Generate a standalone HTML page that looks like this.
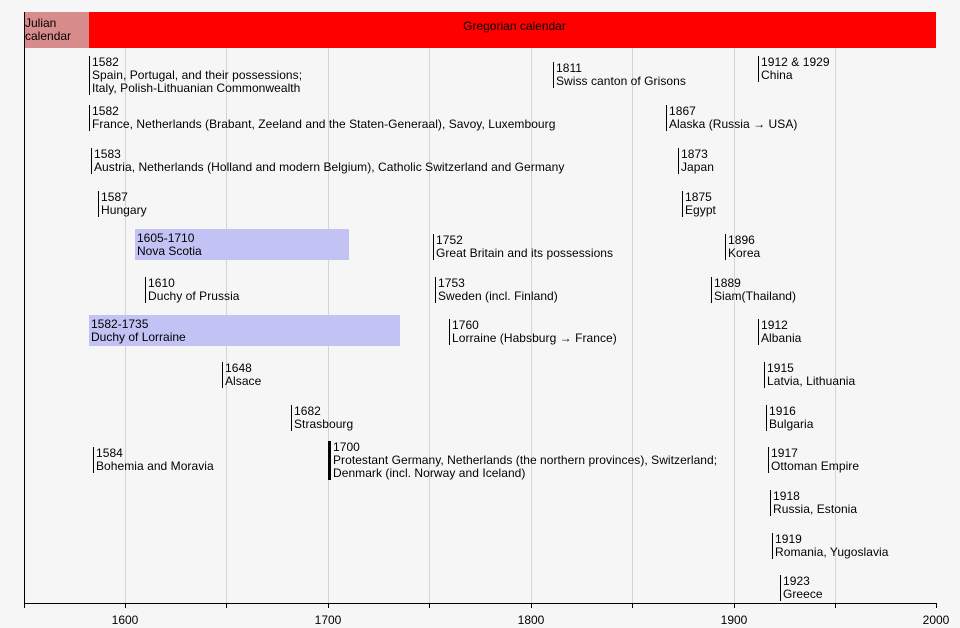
<!DOCTYPE html>
<html><head><meta charset="utf-8"><style>
body{margin:0;width:960px;height:628px;background:#f6f6f6;position:relative;overflow:hidden;font-family:"Liberation Sans",sans-serif;font-size:12px;color:#000}
.g{position:absolute;top:48px;height:556px;width:1px;background:#d4d4d4}
.e{position:absolute;border-left:1px solid #000;padding-left:2px;line-height:13px;white-space:nowrap;letter-spacing:0.05px}
.b{position:absolute;background:#c2c2f4;line-height:13px;padding:3px 2px;box-sizing:border-box;height:31px;white-space:nowrap}
.t{position:absolute;top:613px;width:60px;text-align:center;font-size:12px}
.k{position:absolute;top:604px;width:1px;height:4px;background:#000}
</style></head><body>
<div class="g" style="left:125px"></div><div class="g" style="left:226px"></div><div class="g" style="left:328px"></div><div class="g" style="left:429px"></div><div class="g" style="left:531px"></div><div class="g" style="left:632px"></div><div class="g" style="left:734px"></div><div class="g" style="left:835px"></div>
<div style="position:absolute;left:25px;top:12px;width:64px;height:36px;background:#d98c8c;line-height:13px;padding-top:5px;box-sizing:border-box">Julian<br>calendar</div>
<div style="position:absolute;left:89px;top:12px;width:847px;height:36px;background:#ff0000;text-align:center;line-height:28px;padding-left:4px;box-sizing:border-box">Gregorian calendar</div>
<div style="position:absolute;left:24px;top:12px;width:1px;height:593px;background:#000"></div>
<div style="position:absolute;left:24px;top:603px;width:913px;height:1px;background:#000"></div>
<div class="k" style="left:24px"></div><div class="k" style="left:125px"></div><div class="k" style="left:226px"></div><div class="k" style="left:328px"></div><div class="k" style="left:429px"></div><div class="k" style="left:531px"></div><div class="k" style="left:632px"></div><div class="k" style="left:734px"></div><div class="k" style="left:835px"></div><div class="k" style="left:936px"></div>
<div class="t" style="left:95px">1600</div><div class="t" style="left:298px">1700</div><div class="t" style="left:501px">1800</div><div class="t" style="left:704px">1900</div><div class="t" style="left:906px">2000</div>

<div class="e" style="left:89px;top:56px">1582<br>Spain, Portugal, and their possessions;<br>Italy, Polish-Lithuanian Commonwealth</div>
<div class="e" style="left:553px;top:62px">1811<br>Swiss canton of Grisons</div>
<div class="e" style="left:758px;top:56px">1912 &amp; 1929<br>China</div>

<div class="e" style="left:89px;top:105px">1582<br>France, Netherlands (Brabant, Zeeland and the Staten-Generaal), Savoy, Luxembourg</div>
<div class="e" style="left:666px;top:105px">1867<br>Alaska (Russia → USA)</div>

<div class="e" style="left:91px;top:148px">1583<br>Austria, Netherlands (Holland and modern Belgium), Catholic Switzerland and Germany</div>
<div class="e" style="left:678px;top:148px">1873<br>Japan</div>

<div class="e" style="left:98px;top:191px">1587<br>Hungary</div>
<div class="e" style="left:682px;top:191px">1875<br>Egypt</div>

<div class="b" style="left:135px;top:229px;width:214px">1605-1710<br>Nova Scotia</div>
<div class="e" style="left:433px;top:234px">1752<br>Great Britain and its possessions</div>
<div class="e" style="left:725px;top:234px">1896<br>Korea</div>

<div class="e" style="left:145px;top:277px">1610<br>Duchy of Prussia</div>
<div class="e" style="left:435px;top:277px">1753<br>Sweden (incl. Finland)</div>
<div class="e" style="left:711px;top:277px">1889<br>Siam(Thailand)</div>

<div class="b" style="left:89px;top:315px;width:311px">1582-1735<br>Duchy of Lorraine</div>
<div class="e" style="left:449px;top:319px">1760<br>Lorraine (Habsburg → France)</div>
<div class="e" style="left:758px;top:319px">1912<br>Albania</div>

<div class="e" style="left:222px;top:362px">1648<br>Alsace</div>
<div class="e" style="left:764px;top:362px">1915<br>Latvia, Lithuania</div>

<div class="e" style="left:291px;top:405px">1682<br>Strasbourg</div>
<div class="e" style="left:766px;top:405px">1916<br>Bulgaria</div>

<div class="e" style="left:93px;top:447px">1584<br>Bohemia and Moravia</div>
<div class="e" style="left:328px;top:441px;border-left:3px solid #000">1700<br>Protestant Germany, Netherlands (the northern provinces), Switzerland;<br>Denmark (incl. Norway and Iceland)</div>
<div class="e" style="left:768px;top:447px">1917<br>Ottoman Empire</div>

<div class="e" style="left:770px;top:490px">1918<br>Russia, Estonia</div>
<div class="e" style="left:772px;top:533px">1919<br>Romania, Yugoslavia</div>
<div class="e" style="left:780px;top:575px">1923<br>Greece</div>
</body></html>
